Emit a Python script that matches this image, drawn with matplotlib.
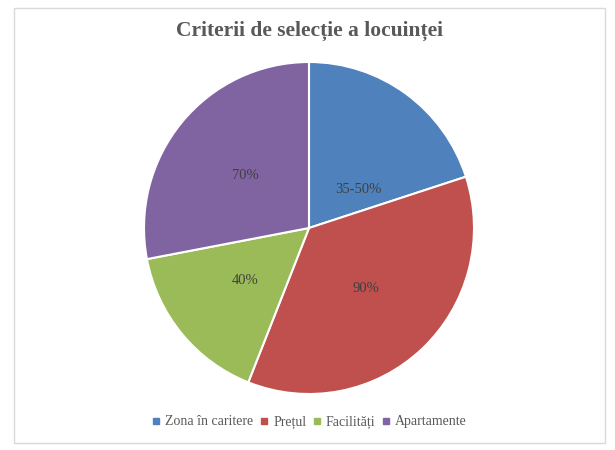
import matplotlib
matplotlib.use("Agg")
import matplotlib.pyplot as plt
from matplotlib.patches import Rectangle
from matplotlib.lines import Line2D
import numpy as np

categories = ["Zona în caritere", "Prețul", "Facilități", "Apartamente"]
values = [50, 90, 40, 70]
labels = ["35-50%", "90%", "40%", "70%"]
colors = ["#4F81BD", "#C0504D", "#9BBB59", "#8064A2"]

serif = ["Liberation Serif", "DejaVu Serif"]
plt.rcParams["font.family"] = serif
text_color = "#595959"

fig = plt.figure(figsize=(6.15, 4.5), dpi=100)
fig.patch.set_facecolor("white")
fig.patches.append(Rectangle((14/615, 1-443/450), (605-14)/615, (443-8)/450,
                             transform=fig.transFigure, fill=False,
                             edgecolor="#D9D9D9", linewidth=1.0))

ax = fig.add_axes([144/615, 1-(228+166)/450, 330/615, 332/450])
wedges, texts = ax.pie(values, colors=colors, startangle=90, counterclock=False,
                       wedgeprops=dict(edgecolor="white", linewidth=1.5))
ax.set_aspect("auto")
ax.set_xlim(-1, 1)
ax.set_ylim(-1, 1)

label_texts = []
for w, lab in zip(wedges, labels):
    ang = np.deg2rad((w.theta1 + w.theta2) / 2)
    r = 0.5
    x, y = r * np.cos(ang), r * np.sin(ang)
    t = ax.text(x, y, lab, ha="center", va="center", fontsize=10.5,
                family=serif, color="#404040")
    label_texts.append(t)
# manual adjustment of first label position
label_texts[0].set_position((0.30, 0.23))

fig.text(309/615, 1-31/450, "Criterii de selecție a locuinței", ha="center", va="center",
         fontsize=15.5, fontweight="bold", family=serif, color=text_color)

handles = [Line2D([], [], marker="s", linestyle="none", markersize=5,
                  markerfacecolor=c, markeredgecolor=c) for c in colors]
fig.legend(handles, categories, loc="center", bbox_to_anchor=(309/615, 1-422/450),
           ncol=4, frameon=False, handlelength=0.7, handletextpad=0.3, columnspacing=0.4,
           prop={"family": serif, "size": 10}, labelcolor=text_color)

fig.savefig("out.png", dpi=100)
